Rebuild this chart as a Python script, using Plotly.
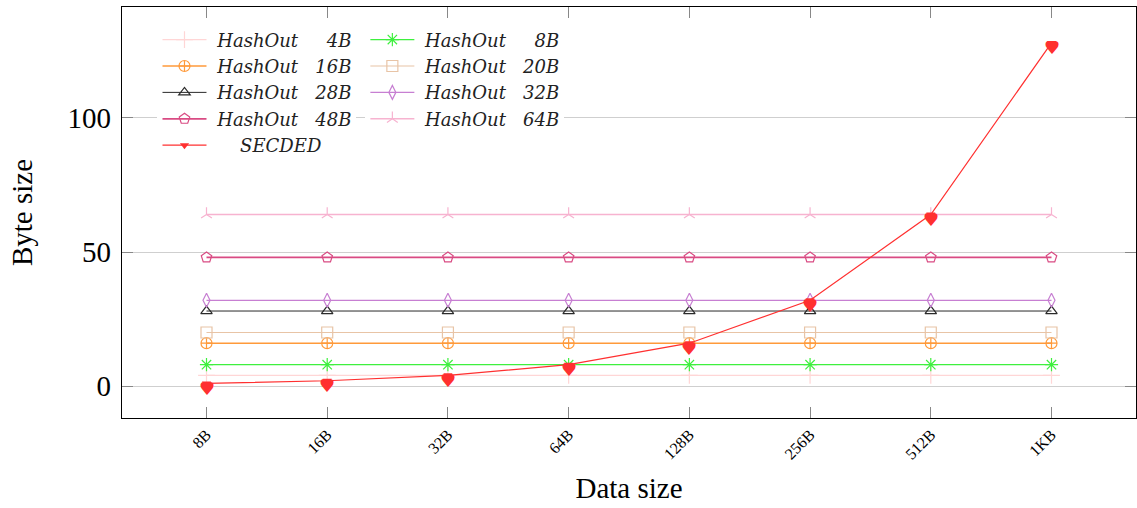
import plotly.graph_objects as go

# Data sizes on the x axis and the byte overhead of each scheme
data_sizes = ["8B", "16B", "32B", "64B", "128B", "256B", "512B", "1KB"]

hashout_4b = [4, 4, 4, 4, 4, 4, 4, 4]
hashout_8b = [8, 8, 8, 8, 8, 8, 8, 8]
hashout_16b = [16, 16, 16, 16, 16, 16, 16, 16]
hashout_20b = [20, 20, 20, 20, 20, 20, 20, 20]
hashout_28b = [28, 28, 28, 28, 28, 28, 28, 28]
hashout_32b = [32, 32, 32, 32, 32, 32, 32, 32]
hashout_48b = [48, 48, 48, 48, 48, 48, 48, 48]
hashout_64b = [64, 64, 64, 64, 64, 64, 64, 64]
secded = [1, 2, 4, 8, 16, 32, 64, 128]

x_idx = list(range(len(data_sizes)))

SERIF = "Liberation Serif"
LEGEND_FONT = "DejaVu Serif"


def label(name, size, pad):
    return "&nbsp;" + f"<i>{name}</i>" + "&nbsp;" * pad + f"<i>{size}</i>"


# (name, size label, values, colour, symbol, marker size, line width, legend, spacing)
series = [
    ("HashOut", "4B", hashout_4b, "#ffd6d6", "cross-thin-open", 12, 1.2, "legend", 5),
    ("HashOut", "16B", hashout_16b, "#ff9a3a", "circle-cross-open", 11, 1.6, "legend", 3),
    ("HashOut", "28B", hashout_28b, "#2a2a2a", "triangle-up-open", 10, 1.0, "legend", 3),
    ("HashOut", "48B", hashout_48b, "#d94b83", "pentagon-open", 11, 1.8, "legend", 3),
    ("HashOut", "8B", hashout_8b, "#3ef03e", "asterisk-open", 11, 1.2, "legend2", 5),
    ("HashOut", "20B", hashout_20b, "#e8c4a6", "square-open", 11, 1.2, "legend2", 3),
    ("HashOut", "32B", hashout_32b, "#c77fd2", "diamond-tall-open", 10, 1.2, "legend2", 3),
    ("HashOut", "64B", hashout_64b, "#f7b3d0", "y-up-open", 9, 1.4, "legend2", 3),
]

fig = go.Figure()

for name, size, vals, color, sym, msize, lw, leg, pad in series:
    fig.add_trace(go.Scatter(
        x=x_idx, y=vals, mode="lines+markers",
        name=label(name, size, pad), legend=leg,
        line=dict(color=color, width=lw),
        marker=dict(symbol=sym, size=msize, color=color,
                    line=dict(color=color, width=1.2)),
    ))

# SECDED line; a small marker sits under each heart glyph
fig.add_trace(go.Scatter(
    x=x_idx, y=secded, mode="lines+markers",
    name="&nbsp;&nbsp;&nbsp;&nbsp;&nbsp;<i>SECDED</i>", legend="legend",
    line=dict(color="#ff3030", width=1.2),
    marker=dict(symbol="triangle-down", size=8, color="#ff3030"),
))

# Heart glyphs placed on the SECDED points
for xi, yv in zip(x_idx, secded):
    fig.add_annotation(
        x=xi, y=yv, xref="x", yref="y", text="\u2665", showarrow=False,
        xanchor="center", yanchor="middle", yshift=-5,
        font=dict(family="DejaVu Sans", size=18, color="#ff3030"),
    )

fig.update_layout(
    width=1137, height=508,
    margin=dict(l=122, r=1, t=7, b=90),
    paper_bgcolor="white", plot_bgcolor="white",
    font=dict(family=SERIF, color="black"),
    showlegend=True,
    legend=dict(
        x=0.035, y=0.965, xanchor="left", yanchor="top",
        bgcolor="white", borderwidth=0,
        font=dict(family=LEGEND_FONT, size=18, color="#222"),
        itemwidth=44, tracegroupgap=0,
    ),
    legend2=dict(
        x=0.24, y=0.965, xanchor="left", yanchor="top",
        bgcolor="white", borderwidth=0,
        font=dict(family=LEGEND_FONT, size=18, color="#222"),
        itemwidth=44, tracegroupgap=0,
    ),
    xaxis=dict(
        range=[-0.7, 7.7],
        tickmode="array", tickvals=x_idx, ticktext=data_sizes,
        tickangle=-45, tickfont=dict(family=SERIF, size=16),
        ticks="inside", ticklen=11, tickcolor="#888", tickwidth=1,
        showgrid=False, zeroline=False,
        showline=True, linecolor="black", linewidth=1.2, mirror="ticks",
        title=dict(text="Data size", font=dict(family=SERIF, size=29),
                   standoff=16),
    ),
    yaxis=dict(
        range=[-11.9, 141.4],
        tickmode="array", tickvals=[0, 50, 100],
        tickfont=dict(family=SERIF, size=29), ticklabelstandoff=4,
        ticks="inside", ticklen=11, tickcolor="#888", tickwidth=1,
        showgrid=True, gridcolor="#cfcfcf", gridwidth=1.4,
        zeroline=False,
        showline=True, linecolor="black", linewidth=1.2, mirror="ticks",
        title=dict(text="Byte size", font=dict(family=SERIF, size=29),
                   standoff=26),
    ),
)

fig.write_html("out.html")
